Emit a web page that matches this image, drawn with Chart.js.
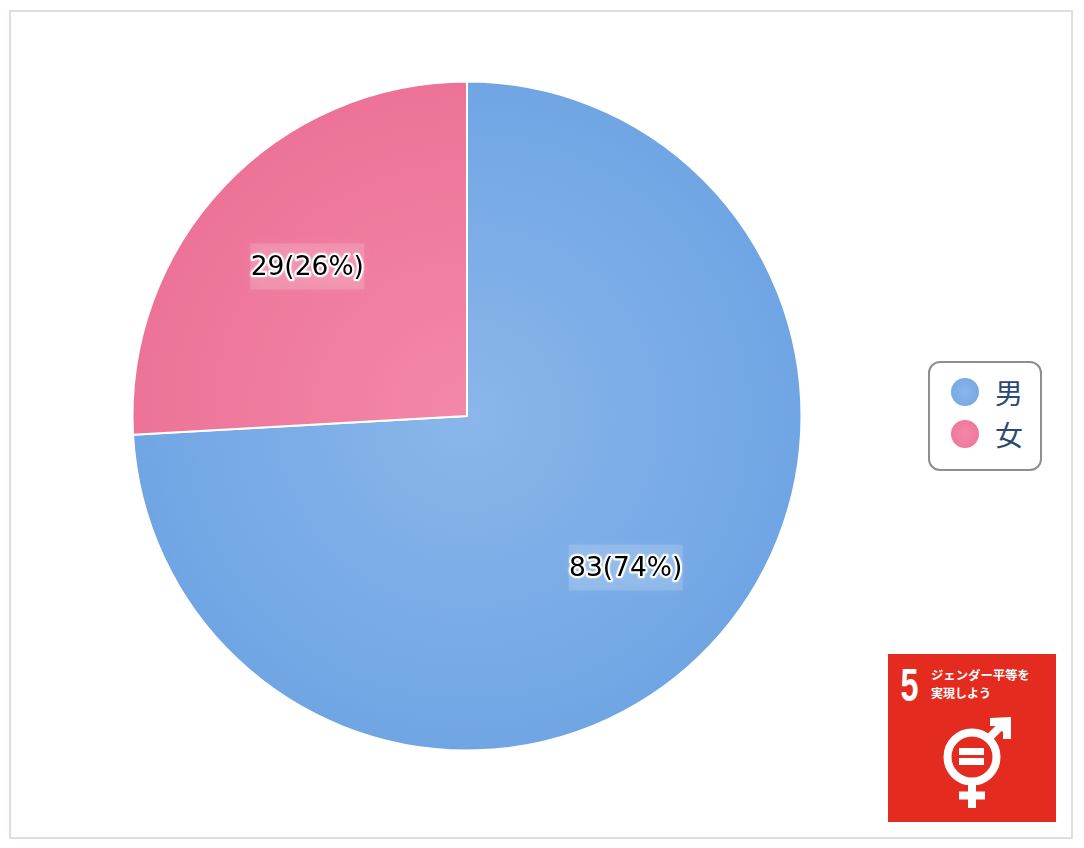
<!DOCTYPE html>
<html lang="ja">
<head>
  <meta charset="UTF-8" />
  <title>男女比</title>
  <style>
    html, body { margin: 0; padding: 0; background: #fff; }
    .page { position: relative; width: 1084px; height: 848px; overflow: hidden; }
    .frame { position: absolute; left: 9px; top: 10px; width: 1060px; height: 825px; border: 2px solid #d9dee9; }
    #pie { position: absolute; left: 0; top: 0; }
    .legend {
      position: absolute; left: 928px; top: 361px; width: 110px; height: 106px;
      border: 2px solid #8e8e8e; border-radius: 12px; background: #fff;
      font-family: "Noto Sans CJK JP", sans-serif; font-size: 28px; color: #2b4a72;
    }
    .legend .row { position: absolute; left: 21px; height: 42px; display: flex; align-items: center; }
    .legend .dot { width: 28px; height: 28px; border-radius: 50%; margin-right: 16px; }
    .tile { position: absolute; left: 888px; top: 654px; }
  </style>
</head>
<body>
  <div class="page">
    <div class="frame"></div>
    <canvas id="pie" width="1084" height="848"></canvas>
    <div class="legend" id="legend"></div>

    <svg class="tile" width="168" height="168" viewBox="0 0 168 168">
      <rect width="168" height="168" fill="#e42b1f"/>
      <text x="21.500" y="47" text-anchor="middle" fill="#fff" font-family="Liberation Sans Narrow, Liberation Sans" font-weight="700" font-size="46" textLength="18" lengthAdjust="spacingAndGlyphs">5</text>
      <g fill="#fff" font-family="Noto Sans CJK JP" font-weight="700" font-size="12">
        <text x="43" y="26" textLength="99" lengthAdjust="spacingAndGlyphs">ジェンダー平等を</text>
        <text x="43" y="44" textLength="60" lengthAdjust="spacingAndGlyphs">実現しよう</text>
      </g>
      <g fill="none" stroke="#fff" stroke-width="8">
        <circle cx="84" cy="103" r="24.5"/>
        <path d="M100 85 L118 67"/>
        <path d="M84 128 V154"/>
        <path d="M71 141.500 H97"/>
      </g>
      <polygon fill="#fff" points="102,64 123,63 123,85 115,85 115,78 109,72 102,72"/>
      <rect x="71" y="94" width="25" height="7" fill="#fff"/>
      <rect x="71" y="104" width="25" height="7" fill="#fff"/>
    </svg>
  </div>

  <script src="https://cdn.jsdelivr.net/npm/chart.js@4"></script>
  <script>
    const categories = ["男", "女"];
    const counts = [83, 29];
    const innerColors = ["#8ab6ea", "#f388a8"];
    const outerColors = ["#70a5e4", "#ec7397"];
    const total = counts.reduce((a, b) => a + b, 0);

    // legend sits outside the canvas
    const legend = document.getElementById("legend");
    categories.forEach((name, i) => {
      const row = document.createElement("div");
      row.className = "row";
      row.style.top = (8 + i * 42) + "px";
      row.innerHTML = '<span class="dot" style="background:radial-gradient(circle,' + innerColors[i] + ',' + outerColors[i] + ')"></span><span>' + name + '</span>';
      legend.appendChild(row);
    });

    function sliceFill(ctx) {
      const area = ctx.chart.chartArea;
      if (!area) return outerColors[ctx.dataIndex];
      const x = (area.left + area.right) / 2;
      const y = (area.top + area.bottom) / 2;
      const g = ctx.chart.ctx.createRadialGradient(x, y, 0, x, y, area.width / 2);
      g.addColorStop(0, innerColors[ctx.dataIndex]);
      g.addColorStop(1, outerColors[ctx.dataIndex]);
      return g;
    }

    // "83(74%)" labels with the soft box behind them
    const sliceLabels = {
      id: "sliceLabels",
      afterDatasetsDraw(chart) {
        const c = chart.ctx;
        chart.getDatasetMeta(0).data.forEach((arc, i) => {
          const mid = (arc.startAngle + arc.endAngle) / 2;
          const x = arc.x + Math.cos(mid) * arc.outerRadius * 0.655 - 0.5;
          const y = arc.y + Math.sin(mid) * arc.outerRadius * 0.655;
          const text = counts[i] + "(" + Math.round(counts[i] / total * 100) + "%)";
          c.save();
          c.shadowColor = "rgba(255,255,255,0.45)";
          c.shadowBlur = 10;
          c.fillStyle = "rgba(255,255,255,0.15)";
          c.fillRect(x - 57, y - 22, 114, 46);
          c.restore();
          c.save();
          c.font = '26.5px "DejaVu Sans"';
          c.textAlign = "center";
          c.textBaseline = "middle";
          c.lineJoin = "round";
          c.lineWidth = 4;
          c.strokeStyle = "rgba(255,255,255,0.9)";
          c.shadowColor = "#fff";
          c.shadowBlur = 2;
          c.strokeText(text, x, y + 2.5);
          c.shadowBlur = 0;
          c.fillStyle = "#000";
          c.fillText(text, x, y + 2.5);
          c.restore();
        });
      }
    };

    new Chart(document.getElementById("pie"), {
      type: "pie",
      data: {
        labels: categories,
        datasets: [{
          data: counts,
          backgroundColor: sliceFill,
          borderColor: "#fff",
          borderWidth: 2
        }]
      },
      options: {
        responsive: false,
        animation: false,
        layout: { padding: { left: 131.5, right: 281.5, top: 80.5, bottom: 96.5 } },
        plugins: { legend: { display: false }, tooltip: { enabled: false } }
      },
      plugins: [sliceLabels]
    });
  </script>
</body>
</html>
